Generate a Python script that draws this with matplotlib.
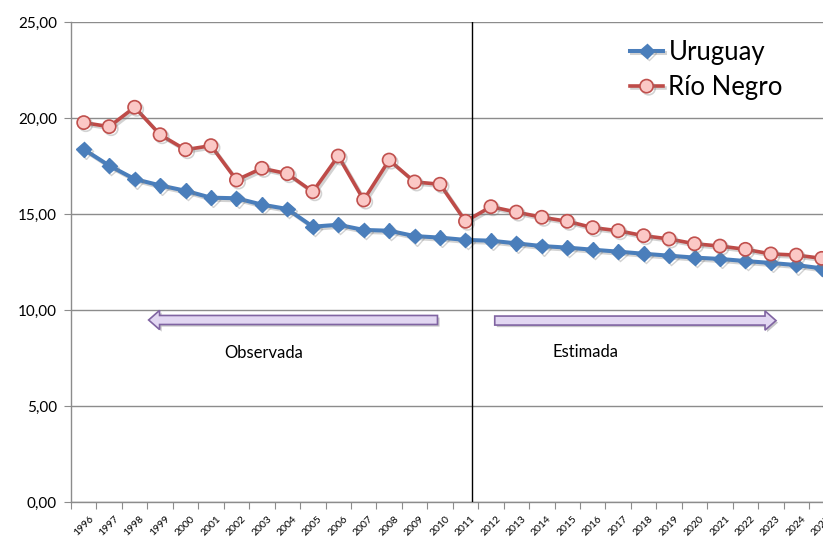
import matplotlib
matplotlib.use("Agg")
import matplotlib.pyplot as plt
import matplotlib.patheffects as pe
import matplotlib.transforms as mtrans
from matplotlib.patches import FancyArrow
import numpy as np

years = [str(y) for y in range(1996, 2026)]
uruguay = [18.37, 17.52, 16.82, 16.49, 16.21, 15.85, 15.82, 15.49, 15.26, 14.34,
           14.44, 14.17, 14.13, 13.85, 13.77, 13.65, 13.61, 13.47, 13.33, 13.25,
           13.14, 13.04, 12.93, 12.83, 12.73, 12.66, 12.55, 12.45, 12.34, 12.17]
rio_negro = [19.76, 19.55, 20.56, 19.13, 18.35, 18.56, 16.77, 17.38, 17.10, 16.16,
             18.02, 15.73, 17.81, 16.67, 16.55, 14.62, 15.38, 15.10, 14.83, 14.62,
             14.29, 14.13, 13.87, 13.70, 13.45, 13.33, 13.16, 12.92, 12.86, 12.69]
yticks = [0, 5, 10, 15, 20, 25]
ytick_labels = ["0,00", "5,00", "10,00", "15,00", "20,00", "25,00"]

plt.rcParams['font.family'] = ['Lato', 'DejaVu Sans']

fig = plt.figure(figsize=(8.23, 5.43), dpi=100)
ax = fig.add_axes([71/823, 1-502/543, 763.5/823, 480/543])
x = np.arange(len(years))

shadow = [pe.SimpleLineShadow(offset=(1.5, -1.5), shadow_color='gray', alpha=0.35), pe.Normal()]
ax.plot(x, uruguay, color='#4a7ebb', lw=2.9, marker='D', markersize=7.5,
        markerfacecolor='#4a7ebb', markeredgecolor='#4a7ebb', label='Uruguay',
        path_effects=shadow, zorder=4)
ax.plot(x, rio_negro, color='#be4b48', lw=2.6, marker='o', markersize=9.5,
        markerfacecolor='#fbc8c6', markeredgecolor='#c0504d', markeredgewidth=1.2,
        label='Río Negro', path_effects=shadow, zorder=5)

ax.set_xlim(-0.5, len(years) - 0.5)
ax.set_ylim(0, 25)
ax.set_yticks(yticks)
ax.set_yticklabels(ytick_labels, fontsize=11)
ax.yaxis.grid(True, color='#8c8c8c', lw=1)
ax.set_axisbelow(True)
ax.set_xticks(np.arange(-0.5, len(years), 1.0))
ax.set_xticklabels([])
ax.set_xticks(x, minor=True)
ax.set_xticklabels(years, minor=True, rotation=45, ha='right', va='top',
                   rotation_mode='anchor', fontsize=7.5)
ax.tick_params(axis='x', which='minor', length=0, pad=9)
ax.tick_params(axis='x', which='major', length=5, color='#8c8c8c')
ax.tick_params(axis='y', length=5, color='#8c8c8c', pad=5)
for lab in ax.get_xticklabels(minor=True):
    lab.set_transform(lab.get_transform() + mtrans.ScaledTranslation(5/100, 0, fig.dpi_scale_trans))
for s in ['top', 'right']:
    ax.spines[s].set_visible(False)
for s in ['left', 'bottom']:
    ax.spines[s].set_color('#8c8c8c')
    ax.spines[s].set_linewidth(1)

ax.axvline(15.25, color='black', lw=1, zorder=6)

arrow_kw = dict(width=0.47, head_width=1.0, head_length=0.43, length_includes_head=True,
                facecolor='#e2d7f2', edgecolor='#8064a2', lw=1.2, zorder=3)
a1 = FancyArrow(13.9, 9.48, 2.55 - 13.9, 0, **arrow_kw)
a2 = FancyArrow(16.15, 9.45, 27.2 - 16.15, 0, **arrow_kw)
for a in (a1, a2):
    a.set_path_effects([pe.SimplePatchShadow(offset=(1.5, -1.5), alpha=0.3), pe.Normal()])
    ax.add_patch(a)
ax.text(7.07, 7.76, 'Observada', ha='center', va='center', fontsize=12)
ax.text(19.7, 7.83, 'Estimada', ha='center', va='center', fontsize=12)

leg = fig.legend(loc='center left', bbox_to_anchor=(617/823, 1-70/543), frameon=False,
                 fontsize=18.5, handlelength=1.3, handletextpad=0.2, labelspacing=0.4,
                 borderpad=0)

fig.savefig('out.png', dpi=100)
